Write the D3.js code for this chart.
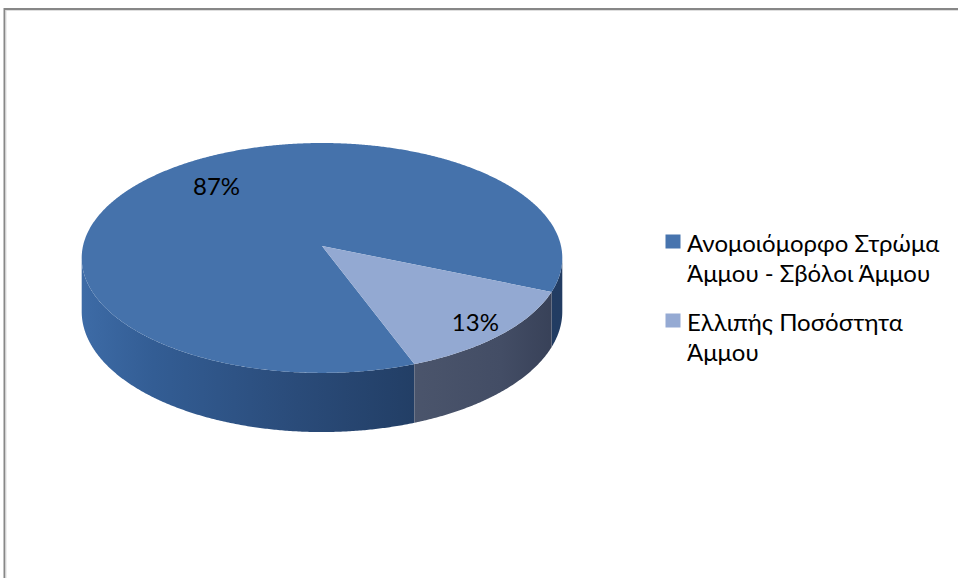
<!DOCTYPE html>
<html>
<head>
<meta charset="utf-8">
<script src="https://cdn.jsdelivr.net/npm/d3@7"></script>
<style>
  html, body { margin: 0; padding: 0; background: #ffffff; }
  svg { display: block; }
  text { font-family: Lato, "Open Sans", "Noto Sans", sans-serif; }
</style>
</head>
<body>
<script>
// Shares of the two categories (percent)
const categories = ["Ανομοιόμορφο Στρώμα Άμμου - Σβόλοι Άμμου", "Ελλιπής Ποσόστητα Άμμου"];
const legendLines = [["Ανομοιόμορφο Στρώμα", "Άμμου - Σβόλοι Άμμου"], ["Ελλιπής Ποσόστητα", "Άμμου"]];
const values = [87, 13];
const topColors = ["#4572AB", "#93A9D2"];
const legendColors = ["#4774AE", "#95AAD3"];

const W = 958, H = 578;
const svg = d3.select("body").append("svg").attr("width", W).attr("height", H);

// chart frame
svg.append("rect").attr("x", 4.5).attr("y", 9).attr("width", 1200).attr("height", 800)
  .attr("fill", "none").attr("stroke", "#878787").attr("stroke-width", 2);
svg.append("rect").attr("x", 6).attr("y", 10.5).attr("width", 1200).attr("height", 800)
  .attr("fill", "none").attr("stroke", "#dedede").attr("stroke-width", 1);

// 3D pie geometry (perspective ellipse)
const cx = 322, cy = 246, A = 239, B = 113.7, k = 0.104, D = 53;
const deg = Math.PI / 180;
const rot = 159.6 * deg;

function proj(a, f = 1, z = 0) {
  const u = f * Math.sin(a), v = -f * Math.cos(a);
  const s = 1 / (1 - k * v);
  return [cx + A * u * s, cy + B * v * s + z * D * s];
}
function samples(a0, a1) {
  const n = Math.max(2, Math.ceil(Math.abs(a1 - a0) / (0.4 * deg)));
  return d3.range(n + 1).map(i => a0 + (a1 - a0) * i / n);
}

const pie = d3.pie().sort(null).value(d => d).startAngle(rot).endAngle(rot + 2 * Math.PI);
const arcs = pie(values);
const line = d3.line();

// wall shading
const defs = svg.append("defs");
const gBig = defs.append("linearGradient").attr("id", "wall0")
  .attr("gradientUnits", "userSpaceOnUse").attr("x1", 82).attr("x2", 562).attr("y1", 0).attr("y2", 0);
[[0, "#3D6BA6"], [0.15, "#335D94"], [0.45, "#2A4B79"], [0.7, "#223E65"], [1, "#223C62"]]
  .forEach(([o, c]) => gBig.append("stop").attr("offset", o).attr("stop-color", c));
const gSmall = defs.append("linearGradient").attr("id", "wall1")
  .attr("gradientUnits", "userSpaceOnUse").attr("x1", 410).attr("x2", 562).attr("y1", 0).attr("y2", 0);
[[0, "#4B556C"], [0.6, "#434D65"], [1, "#363F56"]]
  .forEach(([o, c]) => gSmall.append("stop").attr("offset", o).attr("stop-color", c));

// visible front band of the side wall
const visLo = Math.acos(-k) , visHi = 2 * Math.PI - Math.acos(-k);
const walls = svg.append("g");
arcs.forEach((d, i) => {
  [0, 2 * Math.PI].forEach(off => {
    const a0 = Math.max(d.startAngle, visLo + off), a1 = Math.min(d.endAngle, visHi + off);
    if (a1 <= a0) return;
    const pts = samples(a0, a1).map(a => proj(a, 1, 0))
      .concat(samples(a1, a0).map(a => proj(a, 1, 1)));
    walls.append("path").attr("d", line(pts) + "Z")
      .attr("fill", `url(#wall${i})`);
  });
});

// top faces
const tops = svg.append("g");
arcs.forEach((d, i) => {
  const pts = [[cx, cy]].concat(samples(d.startAngle, d.endAngle).map(a => proj(a)));
  tops.append("path").attr("d", line(pts) + "Z").attr("fill", topColors[i]);
});

// value labels
const spots = [{ turn: 3.8 * deg, f: 0.726 }, { turn: 0, f: 0.867 }];
arcs.forEach((d, i) => {
  const mid = (d.startAngle + d.endAngle) / 2 + spots[i].turn;
  const [x, y] = proj(mid, spots[i].f);
  svg.append("text").attr("x", x).attr("y", y + 8.5)
    .attr("text-anchor", "middle").attr("font-size", 24).attr("fill", "#000")
    .text(d.data + "%");
});

// legend
const legend = svg.append("g");
const legendTop = [234.5, 313.5];
legendLines.forEach((lines, i) => {
  legend.append("rect").attr("x", 665.5).attr("y", legendTop[i]).attr("width", 15).attr("height", 14)
    .attr("fill", legendColors[i]);
  lines.forEach((t, j) => {
    legend.append("text").attr("x", 687).attr("y", legendTop[i] + 17.5 + j * 29.5)
      .attr("font-size", 24).attr("fill", "#000").text(t);
  });
});
</script>
</body>
</html>
